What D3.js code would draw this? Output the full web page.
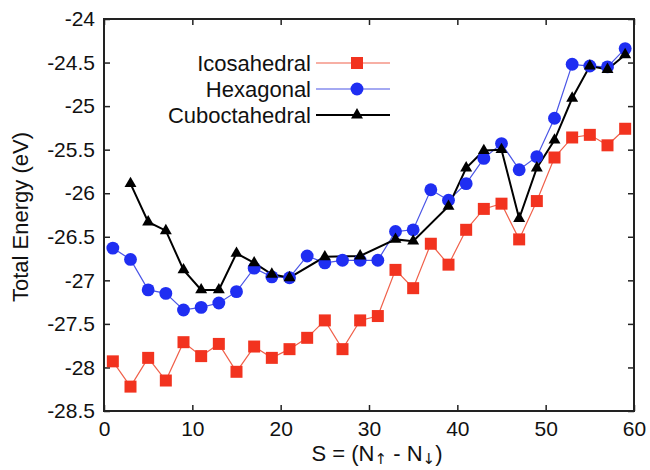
<!DOCTYPE html>
<html>
<head>
<meta charset="utf-8">
<script src="https://cdn.jsdelivr.net/npm/d3@7"></script>
<style>
  body { margin: 0; background: #fff; }
  text { font-family: "Liberation Sans", Arial, sans-serif; fill: #111; }
</style>
</head>
<body>
<div id="chart"></div>
<script>
// Data (x = spin multiplicity S, y = total energy in eV)
var icoS = [1, 3, 5, 7, 9, 11, 13, 15, 17, 19, 21, 23, 25, 27, 29, 31, 33, 35, 37, 39, 41, 43, 45, 47, 49, 51, 53, 55, 57, 59];
var icoE = [-27.93, -28.22, -27.89, -28.15, -27.71, -27.87, -27.73, -28.05, -27.76, -27.89, -27.79, -27.66, -27.46, -27.79, -27.46, -27.41, -26.88, -27.09, -26.58, -26.82, -26.42, -26.18, -26.12, -26.53, -26.09, -25.59, -25.36, -25.33, -25.45, -25.26];

var hexS = [1, 3, 5, 7, 9, 11, 13, 15, 17, 19, 21, 23, 25, 27, 29, 31, 33, 35, 37, 39, 41, 43, 45, 47, 49, 51, 53, 55, 57, 59];
var hexE = [-26.63, -26.76, -27.11, -27.15, -27.34, -27.31, -27.26, -27.13, -26.86, -26.96, -26.97, -26.72, -26.80, -26.77, -26.77, -26.77, -26.44, -26.42, -25.96, -26.08, -25.89, -25.60, -25.43, -25.73, -25.58, -25.14, -24.52, -24.54, -24.55, -24.34];

var cubS = [3, 5, 7, 9, 11, 13, 15, 17, 19, 21, 25, 29, 33, 35, 39, 41, 43, 45, 47, 49, 51, 53, 55, 57, 59];
var cubE = [-25.89, -26.33, -26.43, -26.88, -27.11, -27.11, -26.69, -26.80, -26.93, -26.97, -26.73, -26.72, -26.53, -26.55, -26.15, -25.71, -25.51, -25.50, -26.29, -25.71, -25.39, -24.91, -24.54, -24.58, -24.41];

var seriesNames = ["Icosahedral", "Hexagonal", "Cuboctahedral"];
var xTicks = [0, 10, 20, 30, 40, 50, 60];
var yTicks = [-24, -24.5, -25, -25.5, -26, -26.5, -27, -27.5, -28, -28.5];

// Parameters
var width = 650, height = 470;
var plotL = 104, plotR = 634, plotT = 19, plotB = 411;

var svg = d3.select("#chart").append("svg")
    .attr("width", width)
    .attr("height", height);

var x = d3.scaleLinear().domain([0, 60]).range([plotL, plotR]);
var y = d3.scaleLinear().domain([-28.5, -24]).range([plotB, plotT]);

// axes with inward ticks, mirrored on top / right
var tickLen = 6;
svg.append("g").attr("transform", "translate(0," + plotB + ")")
    .call(d3.axisBottom(x).tickValues(xTicks).tickSize(-tickLen).tickPadding(10).tickFormat(d3.format("d")))
    .call(function(g){ g.select(".domain").remove(); });
svg.append("g").attr("transform", "translate(0," + plotT + ")")
    .call(d3.axisTop(x).tickValues(xTicks).tickSize(-tickLen).tickFormat(""))
    .call(function(g){ g.select(".domain").remove(); });
svg.append("g").attr("transform", "translate(" + plotL + ",0)")
    .call(d3.axisLeft(y).tickValues(yTicks).tickSize(-tickLen).tickPadding(9).tickFormat(function(d){ return String(d); }))
    .call(function(g){ g.select(".domain").remove(); });
svg.append("g").attr("transform", "translate(" + plotR + ",0)")
    .call(d3.axisRight(y).tickValues(yTicks).tickSize(-tickLen).tickFormat(""))
    .call(function(g){ g.select(".domain").remove(); });

svg.selectAll(".tick line").attr("stroke", "#222").attr("stroke-width", 1.5);
svg.selectAll(".tick text").attr("font-size", 21).attr("fill", "#111")
    .attr("font-family", "Liberation Sans, Arial, sans-serif");

svg.append("rect")
    .attr("x", plotL).attr("y", plotT)
    .attr("width", plotR - plotL).attr("height", plotB - plotT)
    .attr("fill", "none").attr("stroke", "#222").attr("stroke-width", 2);

// series
var red = "#f2331f", blue = "#1f2ef2";
var line = d3.line().x(function(d){ return x(d[0]); }).y(function(d){ return y(d[1]); });

var ico = d3.zip(icoS, icoE), hex = d3.zip(hexS, hexE), cub = d3.zip(cubS, cubE);

svg.append("path").datum(ico).attr("d", line).attr("fill", "none").attr("stroke", "#f0604a").attr("stroke-width", 1.2);
svg.append("path").datum(hex).attr("d", line).attr("fill", "none").attr("stroke", "#4a55e6").attr("stroke-width", 1.2);
svg.append("path").datum(cub).attr("d", line).attr("fill", "none").attr("stroke", "#000").attr("stroke-width", 2);

var sq = d3.symbol().type(d3.symbolSquare).size(144);
var ci = d3.symbol().type(d3.symbolCircle).size(130);
var tr = d3.symbol().type(d3.symbolTriangle).size(62);

function markers(data, sym, fill){
    svg.append("g").selectAll("path").data(data).join("path")
        .attr("transform", function(d){ return "translate(" + x(d[0]) + "," + y(d[1]) + ")"; })
        .attr("d", sym).attr("fill", fill);
}
markers(ico, sq, red);
markers(hex, ci, blue);
markers(cub, tr, "#000");

// legend
var legend = [
    {name: seriesNames[0], stroke: "#f0604a", sw: 1.2, sym: sq, fill: red},
    {name: seriesNames[1], stroke: "#4a55e6", sw: 1.2, sym: ci, fill: blue},
    {name: seriesNames[2], stroke: "#000", sw: 2, sym: tr, fill: "#000"}
];
var lg = svg.append("g").selectAll("g").data(legend).join("g")
    .attr("transform", function(d, i){ return "translate(0," + (63 + i * 26) + ")"; });
lg.append("text").attr("x", 311).attr("y", 0).attr("dy", "0.35em")
    .attr("text-anchor", "end").attr("font-size", 22).text(function(d){ return d.name; });
lg.append("line").attr("x1", 316).attr("x2", 390)
    .attr("stroke", function(d){ return d.stroke; }).attr("stroke-width", function(d){ return d.sw; });
lg.append("path").attr("transform", "translate(357,0)")
    .attr("d", function(d){ return d.sym(); }).attr("fill", function(d){ return d.fill; });

// axis titles
svg.append("text")
    .attr("transform", "translate(28," + ((plotT + plotB) / 2 + 2) + ")rotate(-90)")
    .attr("text-anchor", "middle").attr("font-size", 22)
    .text("Total Energy (eV)");

var xl = svg.append("text").attr("x", 377).attr("y", 461)
    .attr("text-anchor", "middle").attr("font-size", 22);
xl.append("tspan").text("S = (N");
xl.append("tspan").attr("font-size", 15).attr("dy", 3).attr("font-family", "DejaVu Sans").text("\u2191\uFE0E");
xl.append("tspan").attr("dy", -3).text(" - N");
xl.append("tspan").attr("font-size", 15).attr("dy", 3).attr("font-family", "DejaVu Sans").text("\u2193\uFE0E");
xl.append("tspan").attr("dy", -3).text(")");
</script>
</body>
</html>
